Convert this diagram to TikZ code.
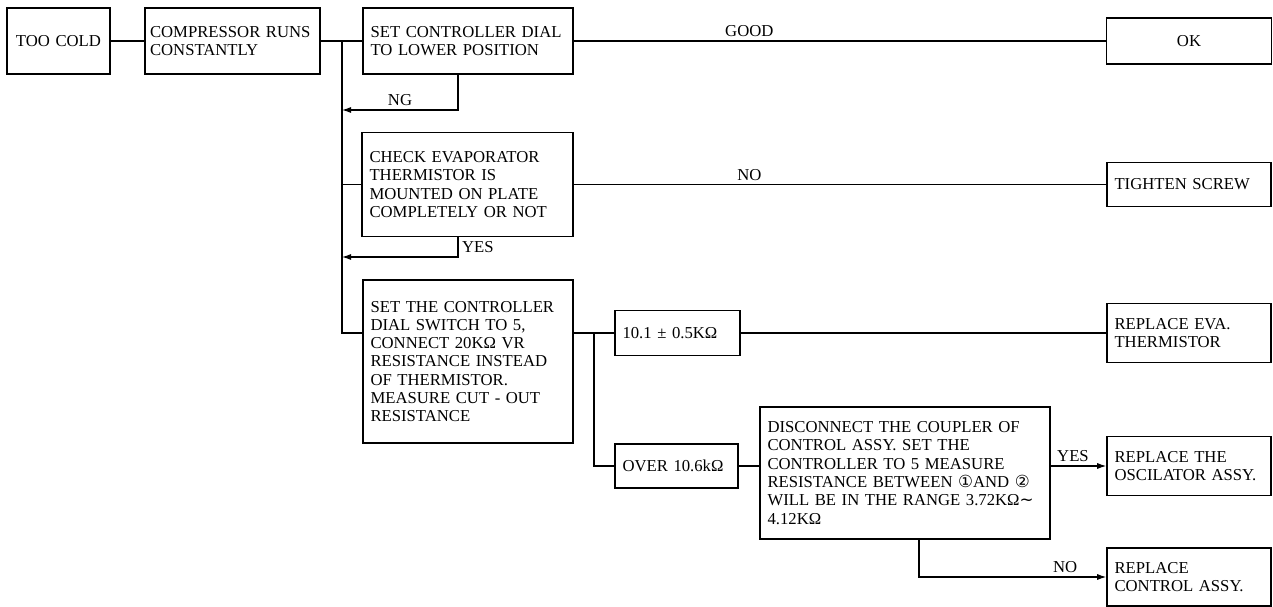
\documentclass[tikz,border=0pt]{standalone}
\usepackage{fontspec}
\setmainfont{Liberation Serif}
\newfontfamily\symfont{DejaVu Sans}
\usetikzlibrary{arrows.meta,positioning}

\begin{document}
\begin{tikzpicture}[
  x=0.02cm, y=-0.02cm,
  font=\fontsize{9.5}{10.4}\selectfont,
  box/.style={
    draw, line width=0.9pt, align=left,
    inner xsep=0.15cm, inner ysep=0pt
  },
  conn/.style={line width=0.6pt},
  arrow/.style={
    -{Latex[length=1.8mm, width=1.2mm]},
    line width=0.6pt},
  lbl/.style={inner sep=2pt}
]
\useasboundingbox (0,0) rectangle (1273,607);

% first row
\node[box, align=center, text width=1.76cm, minimum height=1.32cm]
  (cold) at (58.5,41) {TOO COLD};
\node[box, inner xsep=0.1cm, text width=3.30cm, minimum height=1.32cm]
  (comp) at (232.5,41) {COMPRESSOR RUNS\\CONSTANTLY};
\node[box, text width=3.90cm, minimum height=1.32cm]
  (dial) at (468,41) {SET CONTROLLER DIAL\\TO LOWER POSITION};
\node[box, align=center, text width=3.00cm, minimum height=0.92cm]
  (ok) at (1189,41) {OK};

% checks
\node[box, text width=3.92cm, minimum height=2.08cm]
  (check) at (467.5,184.5)
  {CHECK EVAPORATOR\\THERMISTOR IS\\MOUNTED ON PLATE\\COMPLETELY OR NOT};
\node[box, text width=2.98cm, minimum height=0.88cm]
  (screw) at (1189,184.5) {TIGHTEN SCREW};
\node[box, text width=3.90cm, minimum height=3.26cm]
  (meas) at (468,361.5)
  {SET THE CONTROLLER\\DIAL SWITCH TO 5,\\CONNECT 20KΩ VR\\RESISTANCE INSTEAD\\OF THERMISTOR.\\MEASURE CUT - OUT\\RESISTANCE};

% results
\node[box, text width=2.20cm, minimum height=0.90cm]
  (low) at (677.5,333) {10.1 ± 0.5KΩ};
\node[box, text width=2.98cm, minimum height=1.18cm]
  (eva) at (1189,333) {REPLACE EVA.\\THERMISTOR};
\node[box, text width=2.16cm, minimum height=0.88cm]
  (high) at (676.5,466) {OVER 10.6kΩ};
\node[box, text width=5.50cm, minimum height=2.64cm]
  (coupler) at (905,473)
  {DISCONNECT THE COUPLER OF\\CONTROL ASSY. SET THE\\CONTROLLER TO 5 MEASURE\\RESISTANCE BETWEEN {\symfont ①}AND {\symfont ②}\\WILL BE IN THE RANGE 3.72KΩ{\symfont ∼}\\4.12KΩ};
\node[box, text width=2.98cm, minimum height=1.18cm]
  (osc) at (1189,466) {REPLACE THE\\OSCILATOR ASSY.};
\node[box, text width=2.98cm, minimum height=1.16cm]
  (ctrl) at (1189,577) {REPLACE\\CONTROL ASSY.};

\coordinate (trunk) at (342,41);
\coordinate (ng) at (342,110);
\coordinate (yes) at (342,257);
\coordinate (split) at (594,333);

% connectors
\draw[conn] (cold.east) -- (comp.west);
\draw[conn] (comp.east) -- (dial.west);
\draw[conn] (dial.east) --
  node[lbl, above, pos=0.33] {GOOD} (ok.west);
\draw[conn] (trunk) |- (meas.west |- low.west);
\draw[conn] (trunk |- check.west) -- (check.west);
\draw[arrow] ([xshift=-0.2cm]dial.south) |-
  node[lbl, above, pos=0.75] {NG} (ng);
\draw[arrow] ([xshift=-0.19cm]check.south) |-
  node[lbl, right, pos=0.25] {YES} (yes);
\draw[conn] (check.east) --
  node[lbl, above, pos=0.33] {NO} (screw.west);
\draw[conn] (meas.east |- low.west) -- (low.west);
\draw[conn] (split) |- (high.west);
\draw[conn] (low.east) -- (eva.west);
\draw[conn] (high.east) -- (high.east -| coupler.west);
\draw[arrow] (coupler.east |- osc.west) --
  node[lbl, above, pos=0.4] {YES} (osc.west);
\draw[arrow] ([xshift=0.28cm]coupler.south) |-
  node[lbl, above, pos=0.89] {NO} (ctrl.west);
\end{tikzpicture}
\end{document}
